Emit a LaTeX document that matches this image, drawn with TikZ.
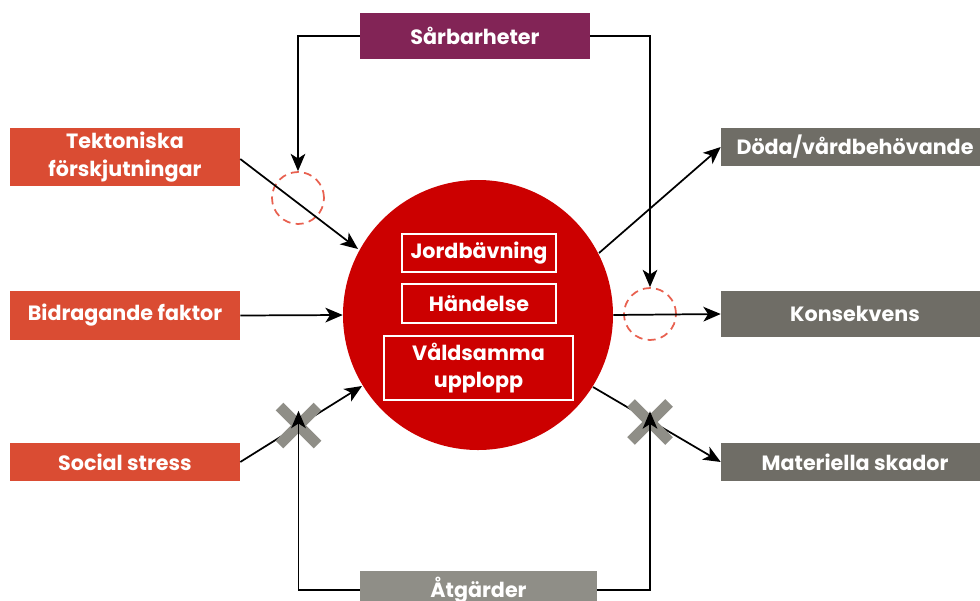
\documentclass[tikz,border=0pt]{standalone}
\usepackage{fontspec}
\setmainfont{Poppins}
\usetikzlibrary{arrows.meta}
\definecolor{cOrange}{HTML}{DA4C33}
\definecolor{cRed}{HTML}{CC0000}
\definecolor{cPurple}{HTML}{822456}
\definecolor{cDark}{HTML}{6F6D66}
\definecolor{cLight}{HTML}{8F8E87}
\definecolor{cDash}{HTML}{E8604F}
\tikzset{
  box/.style={rectangle, inner sep=0pt, text=white, font=\bfseries\fontsize{15.5}{20.5}\selectfont, align=center},
  inbox/.style={box, draw=white, line width=1.5pt, fill=cRed},
  arr/.style={line width=1.3pt, -{Stealth[length=13pt,width=11pt,inset=3.5pt]}},
  dcirc/.style={circle, draw=cDash, dashed, dash pattern=on 6pt off 4pt, line width=1.3pt, minimum size=39pt, inner sep=0pt},
  xmark/.style={draw=cLight, line width=8pt}
}
\begin{document}
\begin{tikzpicture}[x=0.75pt,y=-0.75pt]
\clip (0,0) rectangle (980,600);
\fill[white] (0,0) rectangle (980,600);
% center circle
\node[circle, fill=cRed, minimum size=270*0.75pt, inner sep=0pt] (c) at (478,315) {};
\node[inbox, minimum width=154*0.75pt, minimum height=38*0.75pt] (jord) at (479,253) {Jordbävning};
\node[inbox, minimum width=154*0.75pt, minimum height=39*0.75pt] (hand) at (479,303.5) {Händelse};
\node[inbox, minimum width=189*0.75pt, minimum height=64*0.75pt] (vald) at (478.5,368) {Våldsamma\\upplopp};
% left boxes
\node[box, fill=cOrange, minimum width=230*0.75pt, minimum height=58*0.75pt] (tek) at (125,157) {Tektoniska\\förskjutningar};
\node[box, fill=cOrange, minimum width=230*0.75pt, minimum height=49*0.75pt] (bid) at (125,315.5) {Bidragande faktor};
\node[box, fill=cOrange, minimum width=230*0.75pt, minimum height=38*0.75pt] (soc) at (125,462) {Social stress};
% right boxes
\node[box, fill=cDark, minimum width=268*0.75pt, minimum height=38*0.75pt] (dod) at (855,147) {Döda/vårdbehövande};
\node[box, fill=cDark, minimum width=268*0.75pt, minimum height=46*0.75pt] (kon) at (855,314) {Konsekvens};
\node[box, fill=cDark, minimum width=268*0.75pt, minimum height=38*0.75pt] (mat) at (855,462) {Materiella skador};
% top / bottom
\node[box, fill=cPurple, minimum width=230*0.75pt, minimum height=46*0.75pt] (sar) at (475,36) {Sårbarheter};
\node[box, fill=cLight, minimum width=237*0.75pt, minimum height=38*0.75pt] (atg) at (478.5,590) {Åtgärder};
% dashed circles
\node[dcirc] (d1) at (298,198) {};
\node[dcirc] (d2) at (650,314) {};
% X marks positions
\coordinate (x1) at (298.5,425.5);
\coordinate (x2) at (650,422);
% connectors
\draw[arr] (tek.east |- 0,159) -- (358,249);
\draw[arr] (bid.east) -- (c.west);
\draw[arr] (soc.east) -- (362,386);
\draw[arr] (599,253) -- (dod.west);
\draw[arr] (c.east) -- (kon.west);
\draw[arr] (593,387) -- (mat.west);
\draw[arr] (sar.west) -| (d1.north);
\draw[arr] (sar.east) -| (d2.north);
% X marks
\draw[xmark] ([shift={(-19,-19)}]x1) -- ([shift={(19,19)}]x1);
\draw[xmark] ([shift={(-19,19)}]x1) -- ([shift={(19,-19)}]x1);
\draw[xmark] ([shift={(-19,-19)}]x2) -- ([shift={(19,19)}]x2);
\draw[xmark] ([shift={(-19,19)}]x2) -- ([shift={(19,-19)}]x2);
\draw[arr] (atg.west) -| ([yshift=11]x1);
\draw[arr] (atg.east) -| ([yshift=8]x2);
\end{tikzpicture}
\end{document}
